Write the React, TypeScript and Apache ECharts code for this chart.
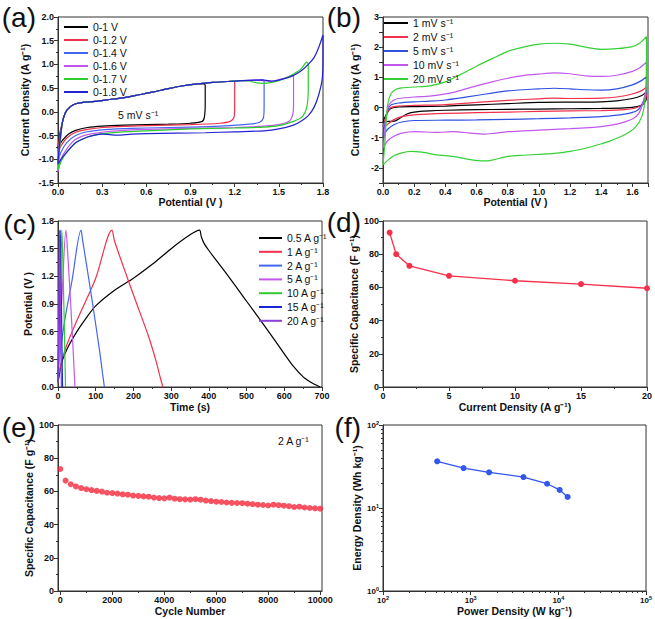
import React, { useEffect, useRef } from 'react';
import * as echarts from 'echarts';

const FONT = "'Liberation Sans', Arial, Helvetica, sans-serif";

// ---------- (a) CV at 5 mV/s, different windows ----------
const aUpperShared = [[0.03,-0.22],[0.05,-0.02],[0.08,0.1],[0.12,0.17],[0.17,0.2],[0.25,0.22],[0.35,0.26],[0.45,0.3],[0.55,0.36],[0.65,0.42],[0.75,0.49],[0.85,0.55],[0.95,0.59],[1.05,0.62],[1.15,0.64],[1.25,0.66],[1.35,0.67]];
const a10Head = [[0,-0.78],[0.01,-0.5]];
const a10Tail = [[0.99,0.59],[1.0,0.56],[1.0,0.2],[0.995,-0.1],[0.98,-0.2],[0.9,-0.24],[0.75,-0.26],[0.6,-0.27],[0.45,-0.28],[0.3,-0.3],[0.2,-0.33],[0.12,-0.39],[0.07,-0.47],[0.03,-0.6],[0.01,-0.7],[0,-0.78]];
const a12Head = [[0,-0.85],[0.01,-0.55]];
const a12Tail = [[1.19,0.65],[1.2,0.62],[1.2,0.1],[1.195,-0.12],[1.17,-0.2],[1.1,-0.24],[0.9,-0.27],[0.6,-0.29],[0.4,-0.31],[0.3,-0.33],[0.2,-0.37],[0.12,-0.43],[0.06,-0.55],[0.02,-0.72],[0,-0.85]];
const a14Head = [[0,-1.05],[0.01,-0.65]];
const a14Tail = [[1.39,0.68],[1.4,0.64],[1.4,0.1],[1.395,-0.13],[1.37,-0.22],[1.3,-0.26],[1.1,-0.3],[0.9,-0.32],[0.6,-0.34],[0.4,-0.36],[0.3,-0.38],[0.2,-0.42],[0.12,-0.5],[0.06,-0.65],[0.02,-0.85],[0,-1.05]];
const a16Head = [[0,-1.27],[0.01,-0.8]];
const a16Tail = [[1.4,0.66],[1.45,0.64],[1.5,0.68],[1.55,0.72],[1.59,0.77],[1.6,0.74],[1.6,0.2],[1.595,-0.05],[1.57,-0.2],[1.5,-0.27],[1.4,-0.3],[1.2,-0.33],[0.9,-0.35],[0.6,-0.37],[0.4,-0.4],[0.3,-0.43],[0.2,-0.48],[0.12,-0.58],[0.06,-0.78],[0.02,-1.0],[0,-1.27]];
const a17Head = [[0,-1.22],[0.01,-0.8]];
const a17Tail = [[1.3,0.65],[1.35,0.61],[1.4,0.6],[1.45,0.62],[1.5,0.66],[1.55,0.72],[1.6,0.8],[1.65,0.9],[1.69,1.05],[1.7,1.0],[1.7,0.5],[1.69,0.1],[1.66,-0.1],[1.6,-0.2],[1.5,-0.29],[1.4,-0.32],[1.2,-0.34],[0.9,-0.36],[0.6,-0.4],[0.45,-0.42],[0.3,-0.46],[0.2,-0.53],[0.12,-0.65],[0.06,-0.85],[0.02,-1.05],[0,-1.22]];
const a18Head = [[0,-1.1],[0.01,-0.7]];
const a18Tail = [[1.4,0.67],[1.45,0.65],[1.5,0.67],[1.55,0.71],[1.6,0.77],[1.65,0.86],[1.7,1.0],[1.74,1.15],[1.77,1.35],[1.8,1.62],[1.8,1.2],[1.795,0.7],[1.77,0.35],[1.74,0.1],[1.7,-0.08],[1.65,-0.2],[1.6,-0.28],[1.5,-0.36],[1.4,-0.4],[1.2,-0.42],[1.0,-0.44],[0.8,-0.45],[0.6,-0.46],[0.5,-0.47],[0.4,-0.49],[0.35,-0.48],[0.3,-0.47],[0.25,-0.49],[0.2,-0.53],[0.12,-0.65],[0.06,-0.85],[0.02,-1.0],[0,-1.1]];
const aNames = ['0-1 V', '0-1.2 V', '0-1.4 V', '0-1.6 V', '0-1.7 V', '0-1.8 V'];
const aColors = ['#000000', '#f2304a', '#4465ee', '#c257ee', '#2ecc2e', '#2222d0'];
const aParts = [[a10Head, 0.98, a10Tail],[a12Head, 1.18, a12Tail],[a14Head, 1.38, a14Tail],[a16Head, 1.38, a16Tail],[a17Head, 1.28, a17Tail],[a18Head, 1.38, a18Tail]];

// ---------- (b) CV at different scan rates ----------
const b1 = [[0,-0.5],[0.01,-0.35],[0.03,-0.15],[0.05,-0.03],[0.1,0.02],[0.2,0.03],[0.4,0.05],[0.6,0.09],[0.8,0.13],[1.0,0.17],[1.2,0.18],[1.4,0.19],[1.5,0.22],[1.6,0.3],[1.66,0.4],[1.69,0.52],[1.69,0.3],[1.67,0.12],[1.63,0.03],[1.55,-0.01],[1.4,-0.03],[1.2,-0.04],[1.0,-0.05],[0.8,-0.06],[0.6,-0.07],[0.4,-0.09],[0.3,-0.11],[0.2,-0.15],[0.15,-0.22],[0.11,-0.35],[0.08,-0.44],[0.04,-0.46],[0.01,-0.48],[0,-0.5]];
const b2 = [[0,-0.65],[0.01,-0.45],[0.03,-0.15],[0.05,0.0],[0.1,0.05],[0.2,0.07],[0.4,0.1],[0.6,0.17],[0.8,0.24],[1.0,0.29],[1.1,0.31],[1.2,0.3],[1.4,0.31],[1.5,0.35],[1.6,0.45],[1.66,0.56],[1.69,0.68],[1.69,0.4],[1.67,0.15],[1.63,0.0],[1.55,-0.07],[1.4,-0.1],[1.2,-0.11],[1.0,-0.13],[0.8,-0.15],[0.6,-0.17],[0.4,-0.19],[0.2,-0.24],[0.12,-0.3],[0.07,-0.4],[0.03,-0.55],[0,-0.65]];
const b5 = [[0,-0.95],[0.01,-0.6],[0.03,-0.1],[0.05,0.08],[0.1,0.15],[0.2,0.19],[0.3,0.21],[0.4,0.25],[0.5,0.32],[0.6,0.4],[0.7,0.48],[0.8,0.55],[0.9,0.59],[1.0,0.62],[1.1,0.64],[1.2,0.62],[1.3,0.59],[1.4,0.58],[1.5,0.62],[1.6,0.75],[1.66,0.9],[1.69,1.02],[1.69,0.6],[1.67,0.2],[1.63,-0.1],[1.55,-0.22],[1.4,-0.3],[1.2,-0.34],[1.0,-0.37],[0.8,-0.39],[0.6,-0.41],[0.4,-0.42],[0.2,-0.43],[0.12,-0.48],[0.07,-0.57],[0.03,-0.72],[0,-0.95]];
const b10 = [[0,-1.35],[0.01,-0.9],[0.02,-0.3],[0.04,0.1],[0.07,0.25],[0.1,0.3],[0.2,0.35],[0.3,0.38],[0.4,0.45],[0.5,0.57],[0.6,0.72],[0.7,0.85],[0.8,0.97],[0.9,1.06],[1.0,1.11],[1.1,1.15],[1.2,1.12],[1.3,1.05],[1.4,1.03],[1.5,1.07],[1.6,1.2],[1.65,1.33],[1.69,1.5],[1.69,0.8],[1.67,0.2],[1.64,-0.2],[1.6,-0.38],[1.5,-0.55],[1.4,-0.63],[1.2,-0.7],[1.0,-0.75],[0.8,-0.8],[0.7,-0.86],[0.65,-0.88],[0.55,-0.84],[0.45,-0.8],[0.35,-0.82],[0.2,-0.8],[0.12,-0.85],[0.07,-0.95],[0.03,-1.1],[0,-1.35]];
const b20 = [[0,-1.9],[0.01,-1.3],[0.02,-0.5],[0.03,0.1],[0.05,0.45],[0.08,0.6],[0.12,0.65],[0.2,0.68],[0.3,0.72],[0.4,0.85],[0.5,1.1],[0.6,1.37],[0.7,1.62],[0.8,1.86],[0.9,2.0],[1.0,2.1],[1.1,2.13],[1.2,2.1],[1.3,2.0],[1.4,1.93],[1.5,1.95],[1.6,2.02],[1.65,2.15],[1.69,2.35],[1.69,1.0],[1.68,0.2],[1.66,-0.3],[1.62,-0.65],[1.55,-0.9],[1.45,-1.12],[1.4,-1.2],[1.3,-1.35],[1.2,-1.45],[1.1,-1.52],[1.0,-1.55],[0.9,-1.58],[0.8,-1.62],[0.7,-1.74],[0.65,-1.77],[0.55,-1.72],[0.45,-1.62],[0.35,-1.57],[0.25,-1.48],[0.18,-1.45],[0.12,-1.5],[0.07,-1.6],[0.03,-1.75],[0,-1.9]];
const bNames = ['1 mV s⁻¹', '2 mV s⁻¹', '5 mV s⁻¹', '10 mV s⁻¹', '20 mV s⁻¹'];
const bColors = ['#000000', '#f2304a', '#3050e0', '#c257ee', '#36d036'];
const bData = [b1, b2, b5, b10, b20];

// ---------- (c) GCD ----------
const c05 = [[0,0.05],[3,0.12],[10,0.27],[25,0.42],[50,0.6],[75,0.75],[100,0.88],[150,1.05],[200,1.18],[250,1.33],[300,1.5],[350,1.65],[375,1.7],[380,1.63],[387,1.56],[400,1.48],[450,1.21],[500,0.93],[550,0.65],[600,0.36],[625,0.22],[650,0.11],[675,0.04],[695,0]];
const c1 = [[0,0.05],[5,0.2],[20,0.42],[50,0.72],[100,1.18],[143,1.7],[150,1.58],[200,1.0],[240,0.55],[260,0.28],[270,0.12],[278,0]];
const c2 = [[0,0.1],[3,0.3],[19,0.75],[37,1.15],[61,1.7],[65,1.6],[90,0.95],[110,0.4],[118,0.15],[123,0]];
const c5 = [[0,0.05],[5,0.5],[12,1.1],[21,1.7],[25,1.5],[35,0.8],[42,0.25],[45,0]];
const c10 = [[0,0.05],[3,0.5],[6,1.0],[10,1.7],[12,1.5],[16,0.8],[19,0.2],[20,0]];
const c15 = [[0,0.05],[3,0.8],[6,1.7],[8,1.2],[11,0.3],[12,0]];
const c20 = [[0,0.05],[2,0.8],[4,1.7],[6,1.1],[8,0.3],[9,0]];
const cNames = ['0.5 A g⁻¹', '1 A g⁻¹', '2 A g⁻¹', '5 A g⁻¹', '10 A g⁻¹', '15 A g⁻¹', '20 A g⁻¹'];
const cColors = ['#000000', '#f2304a', '#4465ee', '#c257ee', '#2ecc2e', '#1a24d8', '#8a3fd8'];
const cData = [c05, c1, c2, c5, c10, c15, c20];

// ---------- (d) rate capability ----------
const dCurrent = [0.5, 1, 2, 5, 10, 15, 20];
const dCap = [93, 80, 73, 67, 64, 62, 59.5];

// ---------- (e) cycling ----------
const eCycles = [0,200,400,600,800,1000,1200,1400,1600,1800,2000,2200,2400,2600,2800,3000,3200,3400,3600,3800,4000,4200,4400,4600,4800,5000,5200,5400,5600,5800,6000,6200,6400,6600,6800,7000,7200,7400,7600,7800,8000,8200,8400,8600,8800,9000,9200,9400,9600,9800,10000];
const eCap = [73.5,66.5,64.3,63,62,61.3,60.8,60.3,59.9,59.2,59,58.7,58.2,58,57.5,57.3,57,56.8,56.3,56,55.8,56.3,55.6,55.3,55.2,55.1,55.3,55,54.5,54.2,53.8,53.6,53.3,53.1,53,52.9,52.6,52.3,52,51.8,51.5,52,51.7,51.4,51.1,50.6,50.8,50.3,50,49.8,49.6];
const eTicks = [0, 2000, 4000, 6000, 8000, 10000];
const eMinorTicks = [1000, 3000, 5000, 7000, 9000];

// ---------- (f) Ragone ----------
const fPower = [415, 830, 1620, 4000, 7430, 10350, 12760];
const fEnergy = [36.5, 30.3, 26.9, 23.6, 19.6, 16.5, 13.6];

const AX = '#333';
const labelStyle = { fontSize: 9, fontWeight: 'bold' as const, color: '#111', fontFamily: FONT };
const nameStyleX = { fontSize: 10.5, fontWeight: 'bold' as const, color: '#111', fontFamily: FONT };
const nameStyleY = { fontSize: 10.5, fontWeight: 'bold' as const, color: '#111', fontFamily: FONT };

function baseAxis(extra: any) {
  return {
    type: 'value',
    axisLine: { show: true, onZero: false, lineStyle: { color: AX, width: 1 } },
    axisTick: { show: true, inside: false, length: 4, lineStyle: { color: AX } },
    minorTick: { show: true, splitNumber: 2, length: 2, lineStyle: { color: AX } },
    splitLine: { show: false },
    minorSplitLine: { show: false },
    nameLocation: 'middle',
    nameTruncate: { maxWidth: 400 },
    nameMoveOverlap: false,
    ...extra,
    axisLabel: { ...labelStyle, margin: 4, ...(extra.axisLabel || {}) },
  };
}

function logMinor(from: number, to: number) {
  const out: number[] = [];
  for (let d = from; d < to; d *= 10) for (let k = 2; k <= 9; k++) out.push(d * k);
  return out;
}

export default function App() {
  const ref = useRef<HTMLDivElement>(null);
  useEffect(() => {
    const chart = echarts.init(ref.current!, null, { renderer: 'svg' });
    const grids = [
      { left: 58, top: 17, width: 265, height: 166 },
      { left: 383, top: 17, width: 265, height: 166 },
      { left: 58, top: 221, width: 264, height: 166 },
      { left: 383, top: 221, width: 264, height: 166 },
      { left: 58, top: 425, width: 264, height: 166 },
      { left: 383, top: 425, width: 264, height: 166 },
    ].map((g) => ({ ...g, show: true, borderColor: AX, borderWidth: 1, backgroundColor: 'transparent' }));

    const fix1 = (v: number) => v.toFixed(1);
    const plain = (v: number) => String(Math.round(v));
    const supFmt = (v: number) => '{b|10}{s|' + Math.round(Math.log10(v)) + '}';
    const supRich = { b: { fontSize: 8, fontFamily: FONT, color: '#111' }, s: { fontSize: 5.5, fontFamily: FONT, color: '#111', verticalAlign: 'top', padding: [0, 0, 5, 0] } };

    const xAxis: any[] = [
      baseAxis({ gridIndex: 0, min: 0, max: 1.8, interval: 0.3, name: 'Potential (V )', nameGap: 13, nameTextStyle: nameStyleX, axisLabel: { formatter: fix1 } }),
      baseAxis({ gridIndex: 1, min: 0, max: 1.7, interval: 0.2, name: 'Potential (V )', nameGap: 13, nameTextStyle: nameStyleX, axisLabel: { formatter: fix1, showMaxLabel: false } }),
      baseAxis({ gridIndex: 2, min: 0, max: 700, interval: 100, name: 'Time (s)', nameGap: 14, nameTextStyle: nameStyleX, axisLabel: { formatter: plain } }),
      baseAxis({ gridIndex: 3, min: 0, max: 20, interval: 5, name: 'Current Density (A g⁻¹)', nameGap: 14, nameTextStyle: nameStyleX, axisLabel: { formatter: plain } }),
      baseAxis({ gridIndex: 4, min: -90, max: 10070, name: 'Cycle Number', nameGap: 14, nameTextStyle: nameStyleX,
        axisLabel: { customValues: eTicks, formatter: plain }, axisTick: { show: true, length: 4, customValues: eTicks, lineStyle: { color: AX } }, minorTick: { show: false } }),
      baseAxis({ gridIndex: 5, type: 'log', logBase: 10, min: 100, max: 100000, name: 'Power Density (W kg⁻¹)', nameGap: 14, nameTextStyle: nameStyleX,
        axisLabel: { formatter: supFmt, rich: supRich }, minorTick: { show: false } }),
      { type: 'value', gridIndex: 4, min: -90, max: 10070, position: 'bottom', axisLine: { show: false }, axisLabel: { show: false }, splitLine: { show: false },
        axisTick: { show: true, length: 2, customValues: eMinorTicks, lineStyle: { color: AX } } },
      { type: 'log', logBase: 10, gridIndex: 5, min: 100, max: 100000, position: 'bottom', axisLine: { show: false }, axisLabel: { show: false }, splitLine: { show: false },
        axisTick: { show: true, length: 2, customValues: logMinor(100, 100000), lineStyle: { color: AX } } },
    ];
    const yAxis: any[] = [
      baseAxis({ gridIndex: 0, min: -1.5, max: 2.0, interval: 0.5, name: 'Current Density (A g⁻¹)', nameGap: 28, nameTextStyle: nameStyleY, axisLabel: { formatter: fix1 } }),
      baseAxis({ gridIndex: 1, min: -2.5, max: 3, interval: 0.5, name: 'Current Density (A g⁻¹)', nameGap: 23, nameTextStyle: nameStyleY,
        axisLabel: { formatter: (v: number) => (Number.isInteger(v) && v > -2.5 ? String(v) : '') }, minorTick: { show: false } }),
      baseAxis({ gridIndex: 2, min: 0, max: 1.8, interval: 0.3, name: 'Potential (V )', nameGap: 25, nameTextStyle: nameStyleY, axisLabel: { formatter: fix1 } }),
      baseAxis({ gridIndex: 3, min: 0, max: 100, interval: 20, name: 'Specific Capacitance (F g⁻¹)', nameGap: 24, nameTextStyle: nameStyleY, axisLabel: { formatter: plain } }),
      baseAxis({ gridIndex: 4, min: 0, max: 100, interval: 20, name: 'Specific Capacitance (F g⁻¹)', nameGap: 24, nameTextStyle: nameStyleY, axisLabel: { formatter: plain } }),
      baseAxis({ gridIndex: 5, type: 'log', logBase: 10, min: 1, max: 100, name: 'Energy Density (Wh kg⁻¹)', nameGap: 21, nameTextStyle: nameStyleY,
        axisLabel: { formatter: supFmt, rich: supRich }, minorTick: { show: false } }),
      { type: 'log', logBase: 10, gridIndex: 5, min: 1, max: 100, position: 'left', axisLine: { show: false }, axisLabel: { show: false }, splitLine: { show: false },
        axisTick: { show: true, length: 2, customValues: logMinor(1, 100), lineStyle: { color: AX } } },
    ];

    const series: any[] = [];
    aParts.forEach((p: any, i) => {
      const data = [...p[0], ...aUpperShared.filter((pt) => pt[0] < p[1]), ...p[2]];
      series.push({ type: 'line', name: aNames[i], xAxisIndex: 0, yAxisIndex: 0, data, symbol: 'none', smooth: 0.25,
        lineStyle: { width: 1.2, color: aColors[i] }, itemStyle: { color: aColors[i] } });
    });
    bData.forEach((d, i) => {
      series.push({ type: 'line', name: bNames[i], xAxisIndex: 1, yAxisIndex: 1, data: d, symbol: 'none', smooth: 0.25,
        lineStyle: { width: 1.2, color: bColors[i] }, itemStyle: { color: bColors[i] } });
    });
    cData.forEach((d, i) => {
      series.push({ type: 'line', name: cNames[i], xAxisIndex: 2, yAxisIndex: 2, data: d, symbol: 'none', smooth: 0.3,
        lineStyle: { width: 1.2, color: cColors[i] }, itemStyle: { color: cColors[i] } });
    });
    series.push({ type: 'line', name: 'rate', xAxisIndex: 3, yAxisIndex: 3, data: dCurrent.map((x, i) => [x, dCap[i]]),
      symbol: 'circle', symbolSize: 6, lineStyle: { width: 1.3, color: '#f5304b' }, itemStyle: { color: '#f5304b' } });
    series.push({ type: 'scatter', name: 'cycle', xAxisIndex: 4, yAxisIndex: 4, data: eCycles.map((x, i) => [x, eCap[i]]),
      symbol: 'circle', symbolSize: 6, itemStyle: { color: '#f5283c' } });
    series.push({ type: 'line', name: 'ragone', xAxisIndex: 5, yAxisIndex: 5, data: fPower.map((x, i) => [x, fEnergy[i]]),
      symbol: 'circle', symbolSize: 6, lineStyle: { width: 1.3, color: '#3355f0' }, itemStyle: { color: '#3355f0' } });

    const legText = { fontSize: 10.5, lineHeight: 12, fontFamily: FONT, color: '#111' };
    const legCommon = { orient: 'vertical', icon: 'rect', itemWidth: 24, itemHeight: 2, padding: 0, textStyle: legText, selectedMode: false };
    const legend = [
      { ...legCommon, data: aNames, left: 64, top: 21, itemGap: 1 },
      { ...legCommon, data: bNames, left: 384, top: 17, itemGap: 2 },
      { ...legCommon, data: cNames, left: 259, top: 232, itemWidth: 23, itemGap: 1.8 },
    ];

    const panelLbl = (t: string, right: number, top: number) => ({
      type: 'text', right: 655 - right, top, style: { text: t, fontSize: 28, fontFamily: FONT, fill: '#111' },
    });
    const graphic = [
      panelLbl('(a)', 36, 3),
      panelLbl('(b)', 361, 3),
      panelLbl('(c)', 36, 210),
      panelLbl('(d)', 361, 208),
      panelLbl('(e)', 36, 413),
      panelLbl('(f)', 361, 413),
      { type: 'text', left: 118, top: 109, style: { text: '5 mV s⁻¹', fontSize: 10.5, fontFamily: FONT, fill: '#111' } },
      { type: 'text', left: 278, top: 435, style: { text: '2 A g⁻¹', fontSize: 10.5, fontFamily: FONT, fill: '#111' } },
    ];

    chart.setOption({
      animation: false,
      backgroundColor: '#ffffff',
      textStyle: { fontFamily: FONT },
      grid: grids,
      xAxis,
      yAxis,
      series,
      legend,
      graphic,
    });
    return () => chart.dispose();
  }, []);
  return <div ref={ref} style={{ position: 'absolute', left: 0, top: 0, width: 655, height: 619, background: '#fff' }} />;
}
